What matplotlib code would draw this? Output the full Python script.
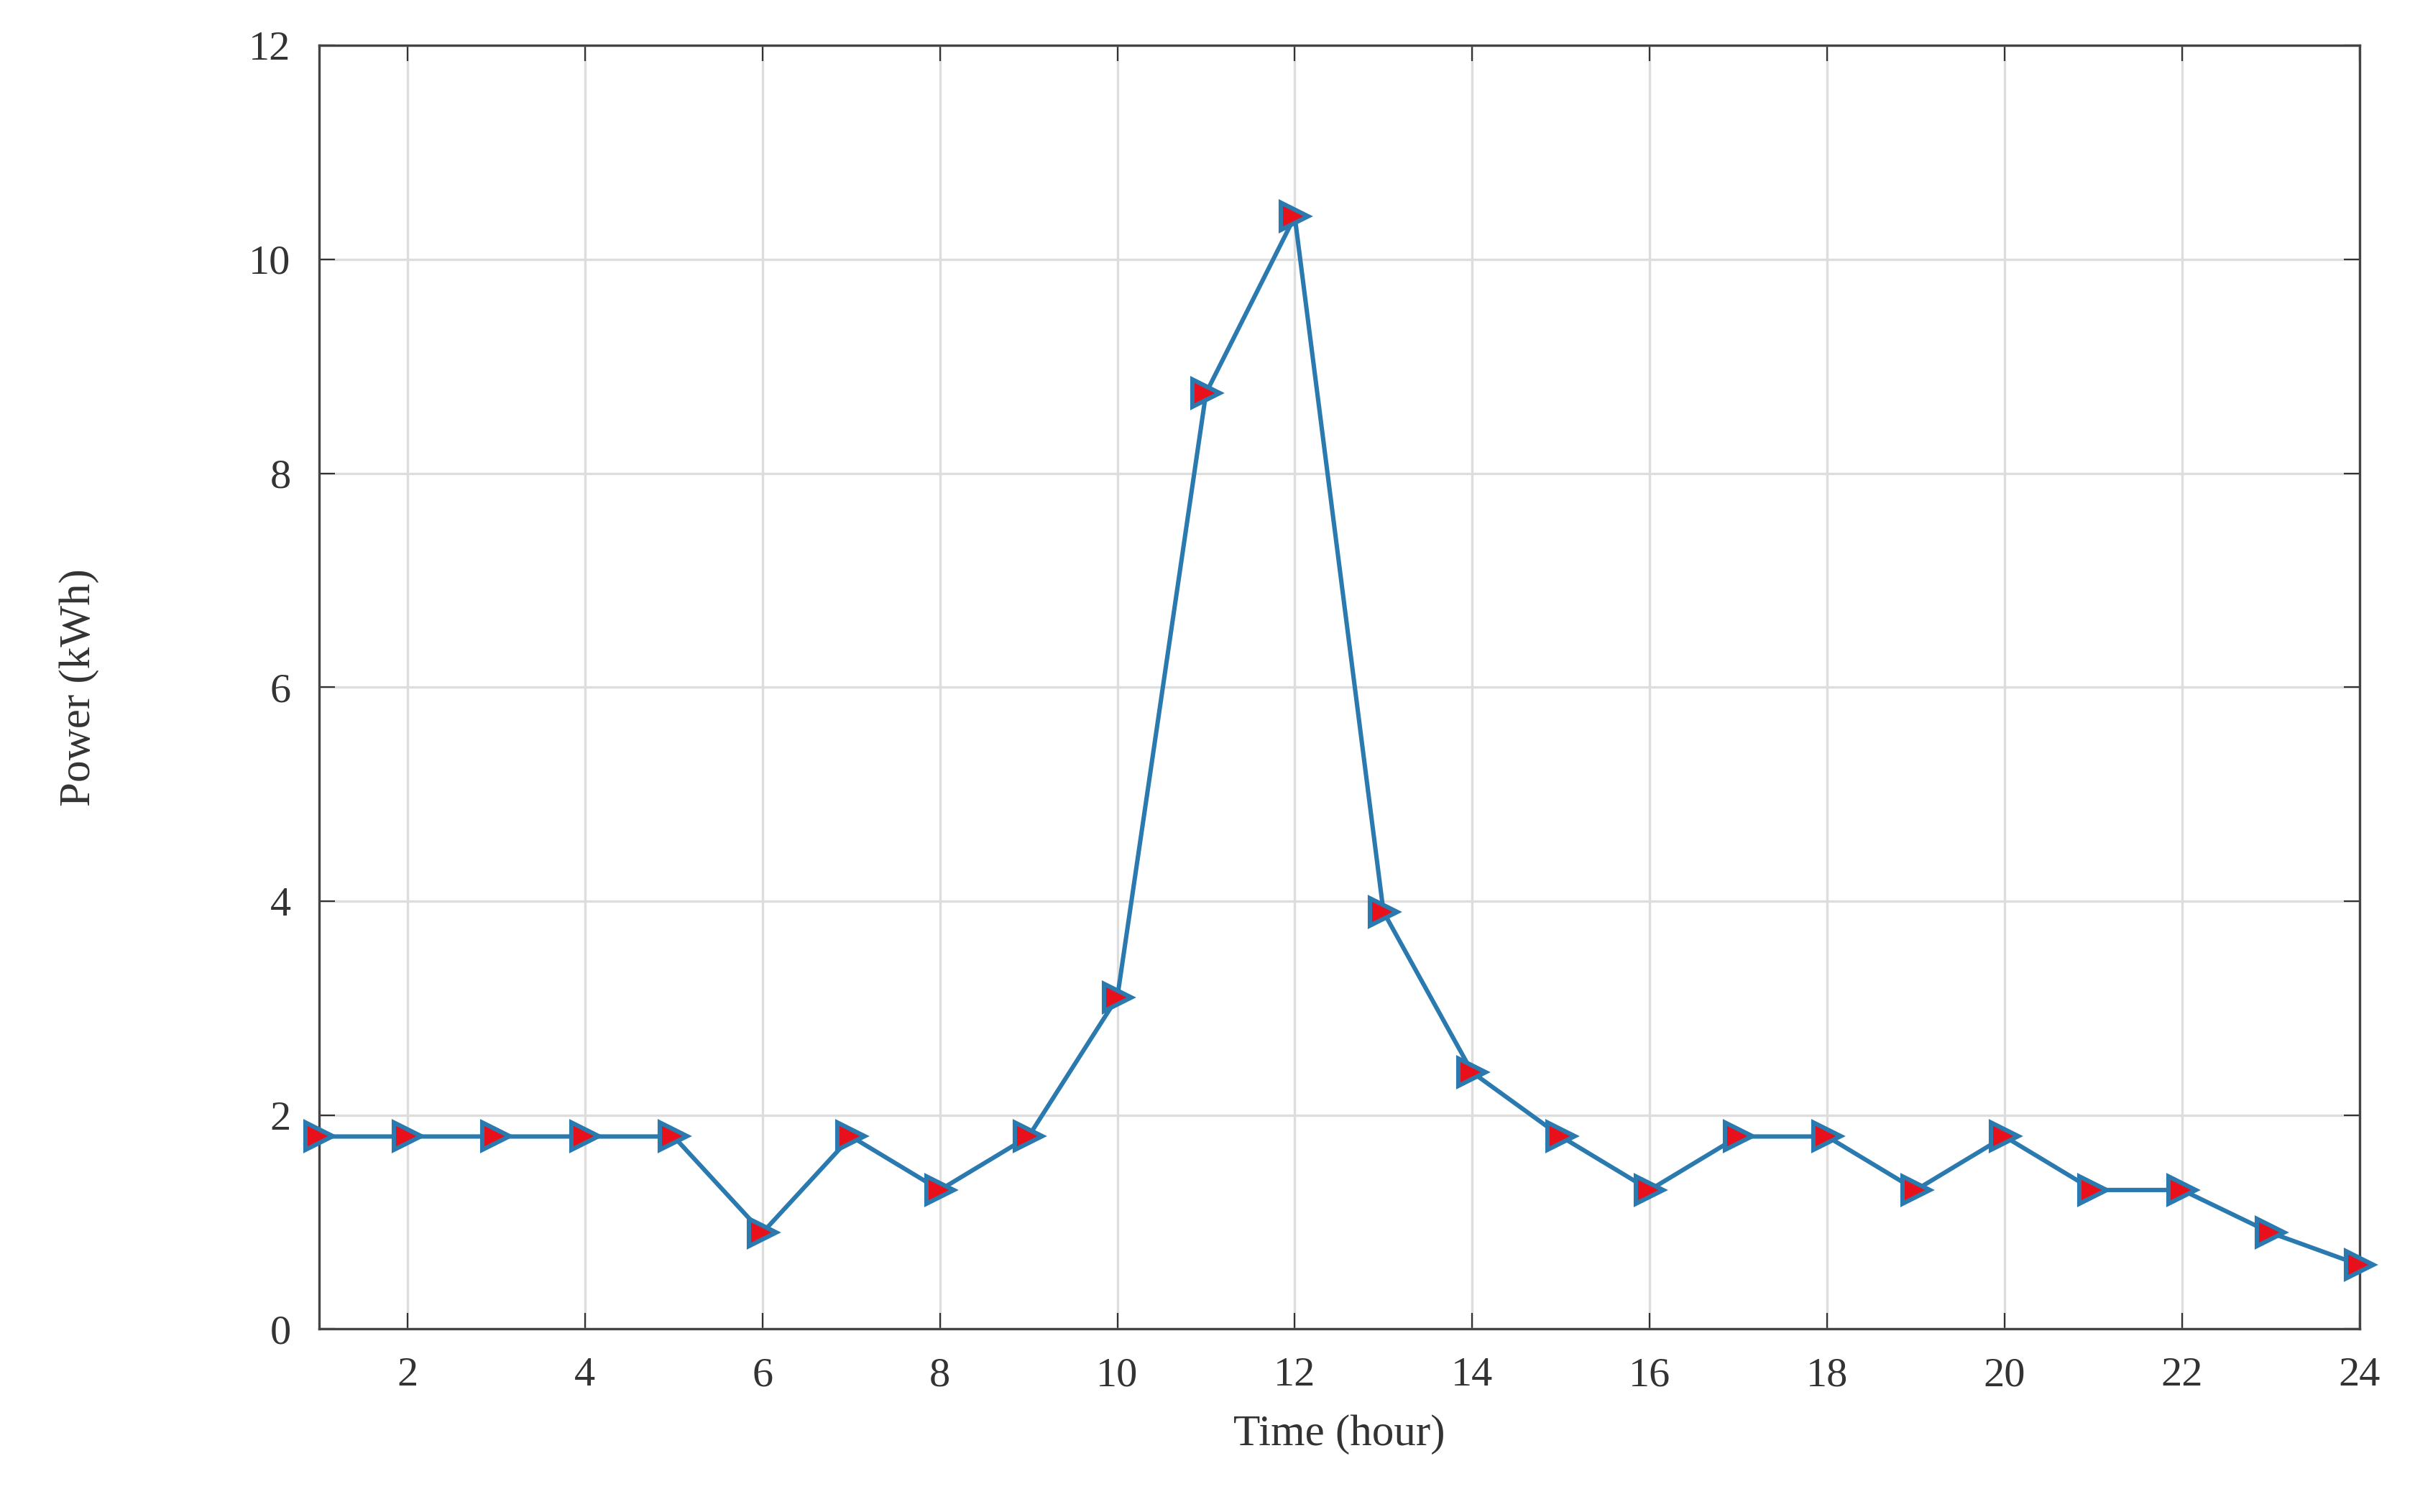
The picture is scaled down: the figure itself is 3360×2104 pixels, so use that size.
import matplotlib
matplotlib.use("Agg")
import matplotlib.pyplot as plt

hours = list(range(1, 25))
power = [1.8, 1.8, 1.8, 1.8, 1.8, 0.9, 1.8, 1.3, 1.8, 3.1, 8.75, 10.4,
         3.9, 2.4, 1.8, 1.3, 1.8, 1.8, 1.3, 1.8, 1.3, 1.3, 0.9, 0.6]
xticks = list(range(2, 25, 2))
yticks = [0, 2, 4, 6, 8, 10, 12]

plt.rcParams['font.family'] = ['Liberation Serif', 'DejaVu Serif']
fig = plt.figure(figsize=(16.8, 10.52), dpi=200)
ax = fig.add_axes([0.132, 0.121, 0.845, 0.849])
ax.plot(hours, power, color='#2a7ab0', lw=2.2, marker='>', markersize=14,
        markerfacecolor='#e8101a', markeredgecolor='#2a7ab0', markeredgewidth=2.2,
        clip_on=False, zorder=3)
ax.set_xlim(1, 24)
ax.set_ylim(0, 12)
ax.set_xticks(xticks)
ax.set_yticks(yticks)
ax.grid(True, color='#dddddd', lw=1.2)
ax.tick_params(direction='in', labelsize=21, length=8, top=True, right=True,
               colors='#333333', pad=14)
for s in ax.spines.values():
    s.set_color('#444444')
    s.set_linewidth(1.2)
ax.set_xlabel('Time (hour)', fontsize=22, color='#333333', labelpad=10)
ax.set_ylabel('Power (kWh)', fontsize=22, color='#333333', labelpad=75)
fig.savefig('out.png', dpi=200)
